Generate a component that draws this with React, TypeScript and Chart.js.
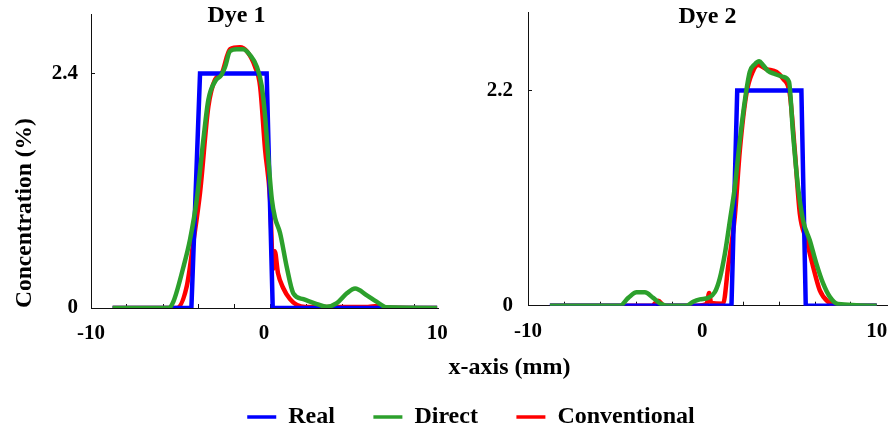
import React, { useEffect, useRef } from "react";
import { Chart, registerables } from "chart.js";
Chart.register(...registerables);

// ---------------- data ----------------
const SERIES = ["Real", "Direct", "Conventional"];
const COLORS = { Real: "#0000FF", Direct: "#2CA02C", Conventional: "#FF0000" };

const X_LABEL_VALUES = [-10, 0, 10];
const X_LABEL_TEXTS = ["-10", "0", "10"];

// Dye 1
const dye1RealX = [-8.75, -4.2, -3.7, 0.15, 0.5, 10];
const dye1RealY = [0, 0, 2.4, 2.4, 0, 0];
const dye1DirectX = [-8.75, -5.53, -5.24, -4.66, -4.28, -3.89, -3.51, -3.22, -2.83, -2.45, -2.25, -1.97, -1.58, -1.2, -0.81, -0.42, -0.13, 0.06, 0.25, 0.45, 0.64, 0.92, 1.31, 1.69, 2.27, 3.05, 3.62, 4.2, 4.78, 5.26, 5.94, 6.5, 7.09, 10];
const dye1DirectY = [0, 0, 0.065, 0.42, 0.7, 1.11, 1.72, 2.13, 2.32, 2.39, 2.47, 2.63, 2.65, 2.65, 2.59, 2.47, 2.27, 1.96, 1.52, 1.11, 0.92, 0.77, 0.42, 0.15, 0.09, 0.04, 0.013, 0.05, 0.15, 0.2, 0.13, 0.065, 0.007, 0];
const dye1ConvX = [-8.75, -5.05, -4.47, -4.09, -3.7, -3.22, -2.83, -2.45, -1.97, -1.39, -1.0, -0.52, -0.23, 0.06, 0.35, 0.52, 0.62, 0.8, 1.12, 1.5, 1.9, 2.4, 6.0, 6.5, 7.0, 10];
const dye1ConvY = [0, 0, 0.22, 0.67, 1.18, 2.06, 2.34, 2.4, 2.65, 2.67, 2.63, 2.47, 2.27, 1.62, 1.11, 0.4, 0.58, 0.36, 0.2, 0.09, 0.03, 0.01, 0.01, 0.02, 0.005, 0];
const dye1YTicks = [0, 2.4];
const dye1YTickTexts = ["0", "2.4"];
const dye1MinorX = [-7.92, -5.82, -3.76, -1.68, 0.38, 2.46, 4.54, 6.6, 8.68];

// Dye 2
const dye2RealX = [-8.75, 1.67, 2.0, 5.68, 5.93, 10];
const dye2RealY = [0, 0, 2.2, 2.2, 0, 0];
const dye2DirectX = [-8.74, -4.73, -4.25, -3.77, -3.3, -2.82, -2.44, -2.05, -0.91, -0.53, -0.14, 0.33, 0.72, 1.0, 1.29, 1.58, 1.86, 2.15, 2.44, 2.72, 3.01, 3.26, 3.48, 3.77, 4.15, 4.63, 4.97, 5.2, 5.49, 5.78, 6.16, 6.54, 6.92, 7.31, 7.78, 10];
const dye2DirectY = [0, 0, 0.08, 0.137, 0.137, 0.08, 0.025, 0, 0, 0.04, 0.065, 0.08, 0.14, 0.28, 0.53, 0.87, 1.21, 1.69, 2.1, 2.39, 2.47, 2.5, 2.46, 2.4, 2.37, 2.34, 2.29, 1.76, 1.21, 0.87, 0.67, 0.43, 0.23, 0.09, 0.017, 0];
const dye2ConvX = [-8.74, -2.9, -2.53, -2.2, -0.3, 0.25, 0.39, 0.5, 1.19, 1.48, 1.86, 2.15, 2.53, 2.91, 3.2, 3.68, 4.25, 4.63, 5.01, 5.3, 5.59, 5.97, 6.35, 6.73, 7.21, 7.78, 10];
const dye2ConvY = [0, 0, 0.05, 0, 0, 0.02, 0.13, 0.03, 0.02, 0.4, 0.91, 1.59, 2.17, 2.4, 2.46, 2.42, 2.39, 2.32, 2.17, 1.59, 0.94, 0.67, 0.4, 0.16, 0.04, 0, 0];
const dye2YTicks = [0, 2.2];
const dye2YTickTexts = ["0", "2.2"];
const dye2MinorX = [-7.93, -5.84, -3.78, -1.73, 0.32, 2.37, 4.43, 6.48, 8.52];

// ---------------- helpers ----------------
const FAMILY = "'Liberation Serif', 'Times New Roman', serif";
const AXIS = "#111";
const LINE_W = 4.5;

const pts = (xs: number[], ys: number[]) => xs.map((x, i) => ({ x, y: ys[i] }));

function lineDatasets(real: any[], direct: any[], conv: any[]) {
  // first dataset is drawn on top
  return [
    { label: "Direct", data: direct, borderColor: COLORS.Direct, backgroundColor: COLORS.Direct, borderWidth: LINE_W, pointRadius: 0, cubicInterpolationMode: "monotone", fill: false },
    { label: "Real", data: real, borderColor: COLORS.Real, backgroundColor: COLORS.Real, borderWidth: LINE_W, pointRadius: 0, tension: 0, fill: false },
    { label: "Conventional", data: conv, borderColor: COLORS.Conventional, backgroundColor: COLORS.Conventional, borderWidth: LINE_W, pointRadius: 0, cubicInterpolationMode: "monotone", fill: false },
  ];
}

interface PanelOpts {
  title: string;
  titlePadTop: number;
  titlePadBottom: number;
  titleFullSize: boolean;
  xMax: number;
  minor: number[];
  yTicks: number[];
  yTickTexts: string[];
  yWidth: number;
  xHeight: number;
  xPadRight: number;
  xTickPad: number;
  yTickPad: number;
  yTitle?: string;
  yTitlePad?: number;
  datasets: any[];
}

function panelConfig(o: PanelOpts): any {
  const tickFont = { family: FAMILY, size: 21, weight: "bold" as const };
  return {
    type: "line",
    data: { datasets: o.datasets },
    options: {
      animation: false,
      responsive: false,
      maintainAspectRatio: false,
      layout: { padding: 0 },
      plugins: {
        legend: { display: false },
        tooltip: { enabled: false },
        title: {
          display: true,
          text: o.title,
          color: "#000",
          fullSize: o.titleFullSize,
          font: { family: FAMILY, size: 24, weight: "bold" },
          padding: { top: o.titlePadTop, bottom: o.titlePadBottom },
        },
      },
      scales: {
        x: {
          type: "linear",
          min: -10,
          max: o.xMax,
          afterBuildTicks: (s: any) => {
            const vals = [...X_LABEL_VALUES, ...o.minor].sort((a, b) => a - b);
            s.ticks = vals.map((v) => ({ value: v }));
          },
          afterFit: (s: any) => {
            s.height = o.xHeight;
            s.paddingRight = o.xPadRight;
          },
          ticks: {
            autoSkip: false,
            maxRotation: 0,
            padding: o.xTickPad,
            color: "#000",
            font: tickFont,
            callback: (v: number) => {
              const i = X_LABEL_VALUES.indexOf(v);
              return i >= 0 ? X_LABEL_TEXTS[i] : "";
            },
          },
          grid: {
            drawOnChartArea: false,
            tickLength: -4,
            tickWidth: 1,
            tickColor: (ctx: any) =>
              ctx.tick && X_LABEL_VALUES.indexOf(ctx.tick.value) >= 0 ? "rgba(0,0,0,0)" : AXIS,
          },
          border: { display: true, color: AXIS, width: 1 },
        },
        y: {
          type: "linear",
          min: 0,
          max: 3,
          afterBuildTicks: (s: any) => {
            s.ticks = o.yTicks.map((v) => ({ value: v }));
          },
          afterFit: (s: any) => {
            s.width = o.yWidth;
            s.paddingTop = 0;
            s.paddingBottom = 0;
          },
          ticks: {
            autoSkip: false,
            padding: o.yTickPad,
            color: "#000",
            font: tickFont,
            callback: (v: number) => {
              const i = o.yTicks.indexOf(v);
              return i >= 0 ? o.yTickTexts[i] : "";
            },
          },
          grid: {
            drawOnChartArea: false,
            tickLength: -4,
            tickWidth: 1,
            tickColor: (ctx: any) => (ctx.tick && ctx.tick.value === 0 ? "rgba(0,0,0,0)" : AXIS),
          },
          border: { display: true, color: AXIS, width: 1 },
          title: o.yTitle
            ? {
                display: true,
                text: o.yTitle,
                align: "start",
                color: "#000",
                font: { family: FAMILY, size: 23.5, weight: "bold" },
                padding: { top: o.yTitlePad ?? 0, bottom: 0 },
              }
            : { display: false },
        },
      },
    },
  };
}

function legendConfig(): any {
  return {
    type: "line",
    data: {
      datasets: SERIES.map((s) => ({
        label: s,
        data: [],
        borderColor: (COLORS as any)[s],
        backgroundColor: (COLORS as any)[s],
        borderWidth: 3.5,
      })),
    },
    options: {
      animation: false,
      responsive: false,
      maintainAspectRatio: false,
      layout: { padding: { left: 52, right: 0, top: 0, bottom: 0 } },
      plugins: {
        tooltip: { enabled: false },
        title: { display: false },
        legend: {
          display: true,
          position: "bottom",
          labels: {
            usePointStyle: true,
            pointStyle: "line",
            pointStyleWidth: 29,
            padding: 38.5,
            color: "#000",
            font: { family: FAMILY, size: 24, weight: "bold" },
          },
        },
      },
      scales: {
        x: {
          type: "linear",
          min: 0,
          max: 1,
          display: true,
          grid: { display: false, drawTicks: false },
          border: { display: false },
          ticks: { display: false },
          title: {
            display: true,
            text: "x-axis (mm)",
            color: "#000",
            font: { family: FAMILY, size: 24, weight: "bold" },
            padding: { top: 0, bottom: -15.9 },
          },
          afterFit: (s: any) => {
            s.height = 10;
            s.paddingLeft = 129;
            s.paddingRight = 0;
          },
        },
        y: { display: false, min: 0, max: 1 },
      },
    },
  };
}

function ChartCanvas(props: { left: number; top: number; width: number; height: number; make: () => any }) {
  const ref = useRef<HTMLCanvasElement | null>(null);
  useEffect(() => {
    const chart = new Chart(ref.current as HTMLCanvasElement, props.make());
    return () => chart.destroy();
  }, []);
  return (
    <canvas
      ref={ref}
      width={props.width}
      height={props.height}
      style={{ position: "absolute", left: props.left, top: props.top, width: props.width, height: props.height }}
    />
  );
}

export default function App() {
  const dye1 = () =>
    panelConfig({
      title: "Dye 1",
      titlePadTop: 1,
      titlePadBottom: -14.8,
      titleFullSize: true,
      xMax: 10.05,
      minor: dye1MinorX,
      yTicks: dye1YTicks,
      yTickTexts: dye1YTickTexts,
      yWidth: 91,
      xHeight: 38,
      xPadRight: 35,
      xTickPad: 16.5,
      yTickPad: 17,
      yTitle: "Concentration (%)",
      yTitlePad: 10.6,
      datasets: lineDatasets(pts(dye1RealX, dye1RealY), pts(dye1DirectX, dye1DirectY), pts(dye1ConvX, dye1ConvY)),
    });
  const dye2 = () =>
    panelConfig({
      title: "Dye 2",
      titlePadTop: 2.8,
      titlePadBottom: -19.3,
      titleFullSize: false,
      xMax: 10.59,
      minor: dye2MinorX,
      yTicks: dye2YTicks,
      yTickTexts: dye2YTickTexts,
      yWidth: 83,
      xHeight: 40.3,
      xPadRight: 3,
      xTickPad: 17,
      yTickPad: 19,
      datasets: lineDatasets(pts(dye2RealX, dye2RealY), pts(dye2DirectX, dye2DirectY), pts(dye2ConvX, dye2ConvY)),
    });
  return (
    <div style={{ position: "absolute", left: 0, top: 0, width: 890, height: 432, overflow: "hidden", background: "#fff" }}>
      <ChartCanvas left={0} top={0} width={473} height={346} make={dye1} />
      <ChartCanvas left={445} top={0} width={445} height={346} make={dye2} />
      <ChartCanvas left={0} top={289} width={890} height={150} make={legendConfig} />
    </div>
  );
}
